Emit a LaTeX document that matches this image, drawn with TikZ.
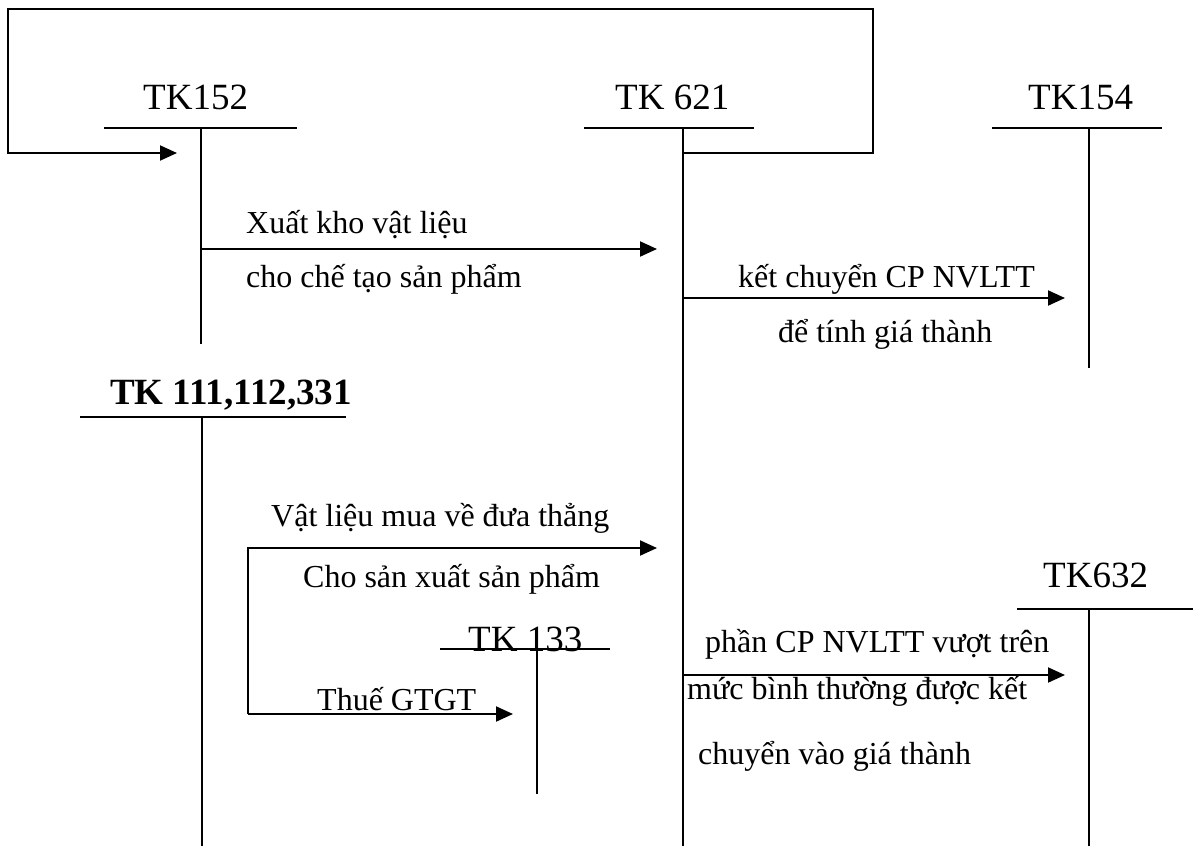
\documentclass[tikz,border=0pt]{standalone}
\usepackage{fontspec}
\setmainfont{Liberation Serif}
\usetikzlibrary{arrows.meta}
\begin{document}
\begin{tikzpicture}[x=1pt,y=-1pt,
  acct/.style={font=\fontsize{37}{40}\selectfont, inner sep=0pt, anchor=base west},
  acctbold/.style={font=\fontsize{37}{40}\selectfont\bfseries, inner sep=0pt, anchor=base west},
  note/.style={font=\fontsize{32}{36}\selectfont, inner sep=0pt, anchor=base west},
  ln/.style={line width=2pt},
  arr/.style={line width=2pt, -{Triangle[length=17pt,width=15pt]}},
]
\useasboundingbox (0,0) rectangle (1193,846);

% ---- T-accounts: bar ends, stem top and stem bottom ----
% TK152
\coordinate (a152L) at (104,128); \coordinate (a152R) at (297,128);
\coordinate (a152T) at (201,128); \coordinate (a152B) at (201,344);
% TK621
\coordinate (a621L) at (584,128); \coordinate (a621R) at (754,128);
\coordinate (a621T) at (683,128); \coordinate (a621B) at (683,846);
% TK154
\coordinate (a154L) at (992,128); \coordinate (a154R) at (1162,128);
\coordinate (a154T) at (1089,128); \coordinate (a154B) at (1089,368);
% TK111,112,331
\coordinate (a111L) at (80,417); \coordinate (a111R) at (346,417);
\coordinate (a111T) at (202,417); \coordinate (a111B) at (202,846);
% TK133
\coordinate (a133L) at (440,649); \coordinate (a133R) at (610,649);
\coordinate (a133T) at (537,649); \coordinate (a133B) at (537,794);
% TK632
\coordinate (a632L) at (1017,609); \coordinate (a632R) at (1193,609);
\coordinate (a632T) at (1089,609); \coordinate (a632B) at (1089,846);

\foreach \k in {152,621,154,111,133,632}{
  \draw[ln] (a\k L) -- (a\k R);
  \draw[ln] (a\k T) -- (a\k B);
}

% ---- account titles ----
\node[acct] (n152) at (143,109) {TK152};
\node[acct] (n621) at (615,109) {TK 621};
\node[acct] (n154) at (1028,109) {TK154};
\node[acctbold] (n111) at (110,404) {TK 111,112,331};
\node[acct] (n133) at (468,651) {TK 133};
\node[acct] (n632) at (1043,587) {TK632};

% ---- return loop from TK621 back to TK152 ----
\coordinate (loopA) at (683,153);
\coordinate (loopB) at (873,153);
\coordinate (loopC) at (873,9);
\coordinate (loopD) at (8,9);
\coordinate (loopE) at (8,153);
\coordinate (loopF) at (177,153);
\draw[arr, line join=miter] (loopA) -- (loopB) -- (loopC) -- (loopD) -- (loopE) -- (loopF);

% ---- TK152 -> TK621 ----
\coordinate (x1s) at (201,249); \coordinate (x1e) at (657,249);
\draw[arr] (x1s) -- (x1e);
\node[note] (t1a) at (246,233) {Xuất kho vật liệu};
\node[note] (t1b) at (246,287) {cho chế tạo sản phẩm};

% ---- TK621 -> TK154 ----
\coordinate (x2s) at (683,298); \coordinate (x2e) at (1065,298);
\draw[arr] (x2s) -- (x2e);
\node[note] (t2a) at (738,287) {kết chuyển CP NVLTT};
\node[note] (t2b) at (778,342) {để tính giá thành};

% ---- TK111,112,331 -> TK621 and TK133 ----
\coordinate (x3s) at (248,548); \coordinate (x3e) at (657,548);
\coordinate (x4s) at (248,714); \coordinate (x4e) at (513,714);
\draw[arr, line join=miter] (x4s) -- (x3s) -- (x3e);
\draw[arr] (x4s) -- (x4e);
\node[note] (t3a) at (271,526) {Vật liệu mua về đưa thẳng};
\node[note] (t3b) at (303,587) {Cho sản xuất sản phẩm};
\node[note] (t4) at (317,710) {Thuế GTGT};

% ---- TK621 -> TK632 ----
\coordinate (x5s) at (683,675); \coordinate (x5e) at (1065,675);
\draw[arr] (x5s) -- (x5e);
\node[note] (t5a) at (705,652) {phần CP NVLTT vượt trên};
\node[note] (t5b) at (687,699) {mức bình thường được kết};
\node[note] (t5c) at (698,764) {chuyển vào giá thành};
\end{tikzpicture}
\end{document}
